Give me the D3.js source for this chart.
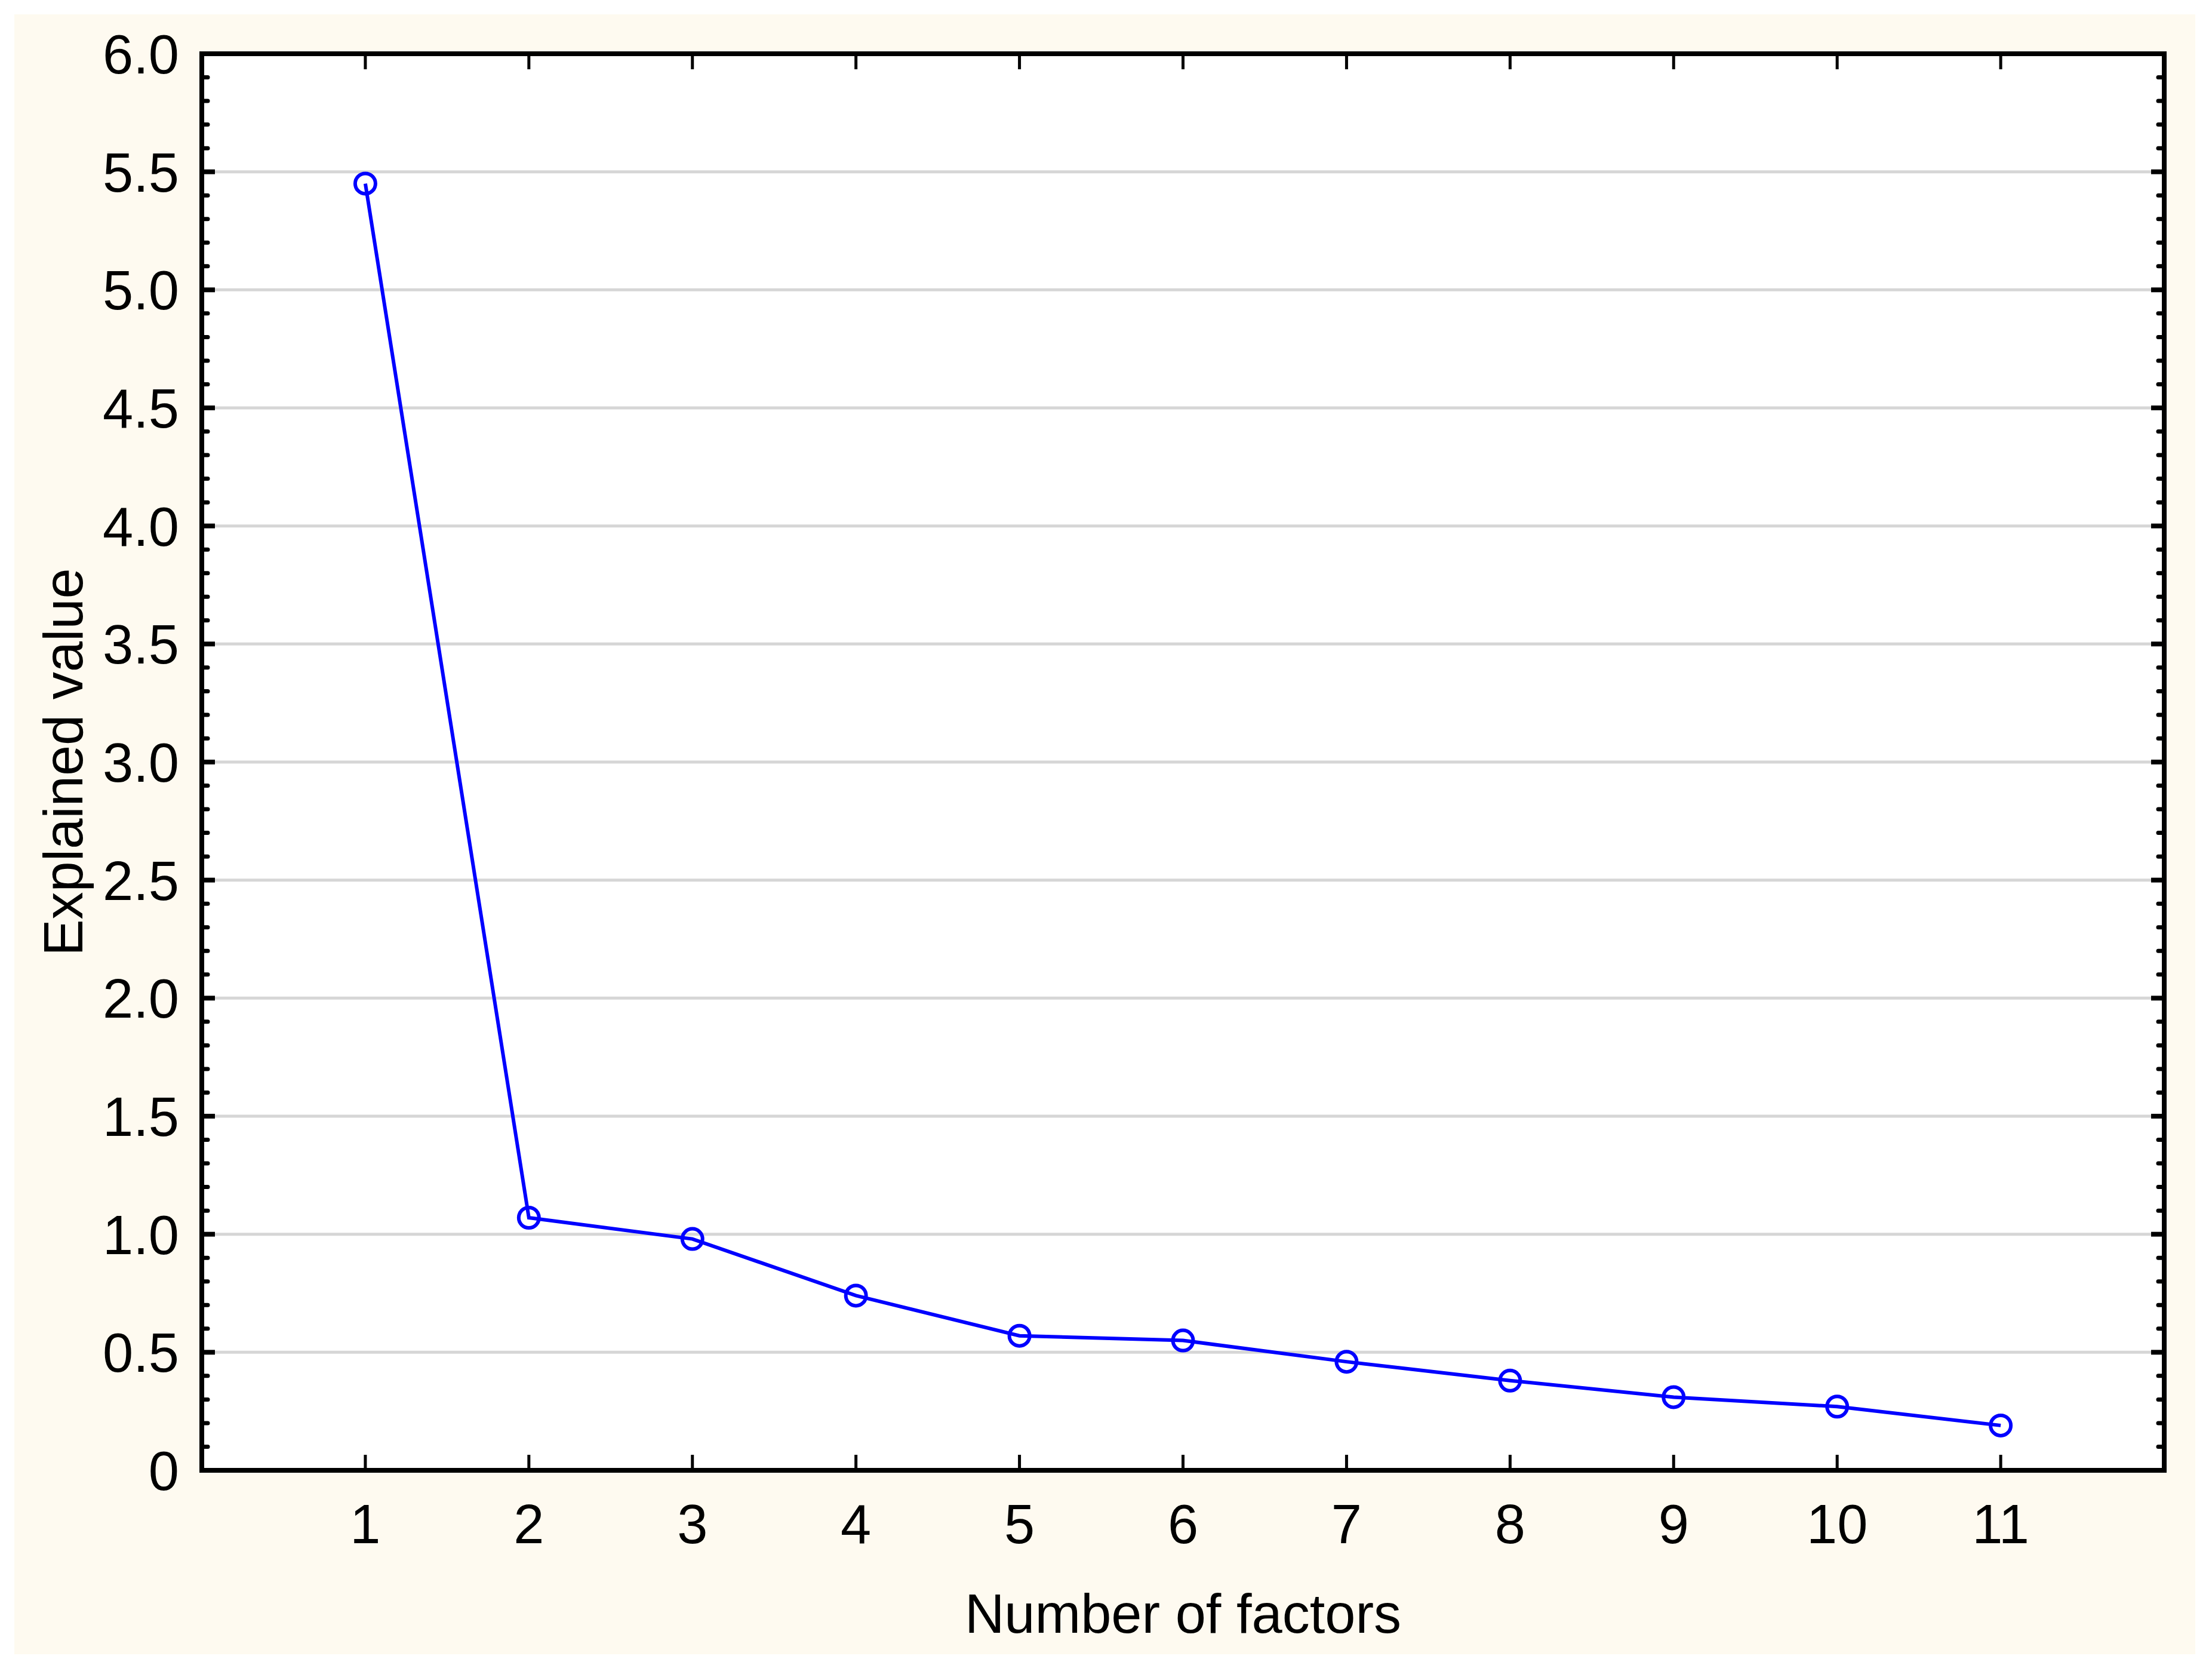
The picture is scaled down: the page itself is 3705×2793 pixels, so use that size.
<!DOCTYPE html>
<html>
<head>
<meta charset="utf-8">
<script src="https://cdn.jsdelivr.net/npm/d3@7"></script>
<style>
  body { margin: 0; background: #fff; }
  text { font-family: "Liberation Sans Narrow", "Liberation Sans", Arial, sans-serif; fill: #000; }
</style>
</head>
<body>
<svg id="chart"></svg>
<script>
// data
const factors = [1, 2, 3, 4, 5, 6, 7, 8, 9, 10, 11];
const explained = [5.45, 1.07, 0.98, 0.74, 0.57, 0.55, 0.46, 0.38, 0.31, 0.27, 0.19];
const yTicks = [0, 0.5, 1, 1.5, 2, 2.5, 3, 3.5, 4, 4.5, 5, 5.5, 6];
const xAxisLabel = 'Number of factors';
const yAxisLabel = 'Explained value';

const width = 3705;
const height = 2793;
const margin = { top: 90, right: 80, bottom: 331, left: 338 };
const innerWidth = width - margin.left - margin.right;
const innerHeight = height - margin.top - margin.bottom;

const svg = d3.select('#chart').attr('width', width).attr('height', height);

// cream background panel
svg.append('rect').attr('x', 24).attr('y', 24).attr('width', 3653).attr('height', 2746).attr('fill', '#fefaf0');

const g = svg.append('g').attr('transform', `translate(${margin.left},${margin.top})`);
g.append('rect').attr('width', innerWidth).attr('height', innerHeight).attr('fill', '#fff');

const xScale = d3.scaleLinear().domain([0, 12]).range([0, innerWidth]);
const yScale = d3.scaleLinear().domain([0, 6]).range([innerHeight, 0]);

// gridlines
g.selectAll('.grid').data(yTicks.slice(1, -1)).join('line')
  .attr('x1', 0).attr('x2', innerWidth)
  .attr('y1', d => yScale(d)).attr('y2', d => yScale(d))
  .attr('stroke', '#d6d6d6').attr('stroke-width', 5);

// minor ticks (inward, both sides)
const minor = d3.range(0, 60).map(i => i / 10).filter(v => Math.round(v * 10) % 5 !== 0);
[0, innerWidth].forEach((x0, side) => {
  const dir = side === 0 ? 1 : -1;
  g.selectAll(null).data(minor).join('line')
    .attr('x1', x0).attr('x2', x0 + dir * 10)
    .attr('y1', d => yScale(d)).attr('y2', d => yScale(d))
    .attr('stroke', '#000').attr('stroke-width', 7).attr('stroke-linecap', 'round');
  g.selectAll(null).data(yTicks).join('line')
    .attr('x1', x0).attr('x2', x0 + dir * 22)
    .attr('y1', d => yScale(d)).attr('y2', d => yScale(d))
    .attr('stroke', '#000').attr('stroke-width', 8);
});

// x ticks inward top and bottom
g.selectAll(null).data(factors).join('line')
  .attr('x1', d => xScale(d)).attr('x2', d => xScale(d))
  .attr('y1', innerHeight).attr('y2', innerHeight - 26)
  .attr('stroke', '#000').attr('stroke-width', 5);
g.selectAll(null).data(factors).join('line')
  .attr('x1', d => xScale(d)).attr('x2', d => xScale(d))
  .attr('y1', 0).attr('y2', 26)
  .attr('stroke', '#000').attr('stroke-width', 5);

// frame
g.append('rect').attr('width', innerWidth).attr('height', innerHeight)
  .attr('fill', 'none').attr('stroke', '#000').attr('stroke-width', 8);

// tick labels
g.selectAll('.ylab').data(yTicks).join('text')
  .attr('x', -38).attr('y', d => yScale(d)).attr('dy', '0.36em')
  .attr('text-anchor', 'end').attr('font-size', 92)
  .text(d => d === 0 ? '0' : d3.format('.1f')(d));
g.selectAll('.xlab').data(factors).join('text')
  .attr('x', d => xScale(d)).attr('y', innerHeight + 122)
  .attr('text-anchor', 'middle').attr('font-size', 92)
  .text(d => d);

// axis titles
g.append('text').attr('x', innerWidth / 2).attr('y', innerHeight + 272)
  .attr('text-anchor', 'middle').attr('font-size', 92).text(xAxisLabel);
g.append('text')
  .attr('transform', `translate(${-200},${innerHeight / 2}) rotate(-90)`)
  .attr('text-anchor', 'middle').attr('font-size', 92).text(yAxisLabel);

// line + markers
const pts = factors.map((f, i) => ({ x: f, y: explained[i] }));
g.append('path').datum(pts)
  .attr('d', d3.line().x(d => xScale(d.x)).y(d => yScale(d.y)))
  .attr('fill', 'none').attr('stroke', '#0000ff').attr('stroke-width', 6);
g.selectAll('.pt').data(pts).join('circle')
  .attr('cx', d => xScale(d.x)).attr('cy', d => yScale(d.y)).attr('r', 17)
  .attr('fill', 'none').attr('stroke', '#0000ff').attr('stroke-width', 6);
</script>
</body>
</html>
